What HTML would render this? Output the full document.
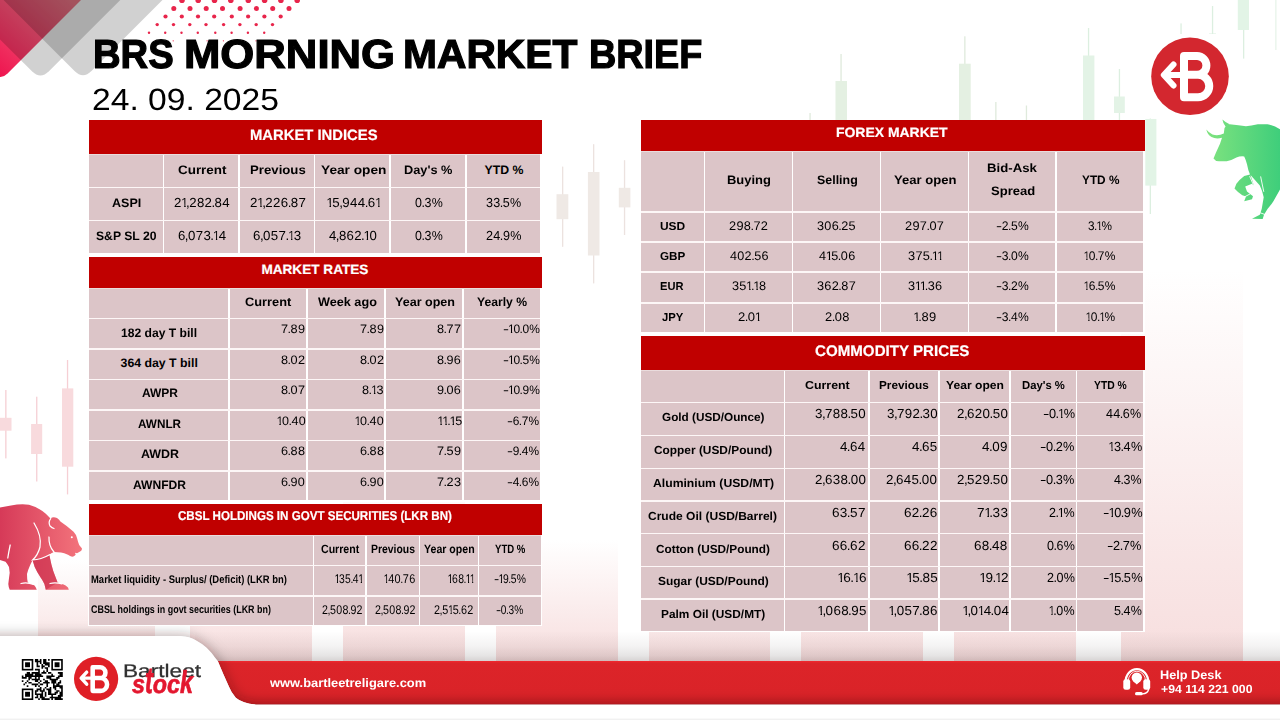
<!DOCTYPE html>
<html><head><meta charset="utf-8"><title>BRS Morning Market Brief</title>
<style>
html,body{margin:0;padding:0}
body{width:1280px;height:720px;position:relative;overflow:hidden;background:#fff;font-family:"Liberation Sans",sans-serif;text-rendering:geometricPrecision}
.t{position:absolute;white-space:nowrap;line-height:normal;margin:0;padding:0;transform-origin:0 0;color:#000}
.ta{display:inline-block;transform:scaleY(1.42);transform-origin:50% 81%}
.n{letter-spacing:.024em}
.n i{font-style:normal}
.o{display:inline-block;margin:0 -.136em 0 -.05em;clip-path:polygon(0 0,.352em 0,.352em 2em,.238em 2em,.238em .64em,0 .64em)}
.p{margin:0 -.064em}
.h{display:inline-block;transform:scaleX(1.5);transform-origin:0 50%;margin-right:.117em}
.hd{position:absolute;background:#c00000}
.bd{position:absolute;background:#dcc5c8}
.vl{position:absolute;width:1.8px;background:#fff}
.hl{position:absolute;height:1.3px;background:#fdf7f7}
svg{position:absolute;left:0;top:0}
</style></head><body>
<svg width="1280" height="720" viewBox="0 0 1280 720">
<defs>
<linearGradient id="pk" x1="0" y1="0" x2="0" y2="1"><stop offset="0" stop-color="#f7dede" stop-opacity="0"/><stop offset="1" stop-color="#f7dede" stop-opacity="1"/></linearGradient>
<linearGradient id="rd" x1="0" y1="75" x2="70" y2="0" gradientUnits="userSpaceOnUse"><stop offset="0" stop-color="#ee1650"/><stop offset="1" stop-color="#f47a8c"/></linearGradient>
<linearGradient id="bear" x1="0" y1="0" x2="82" y2="0" gradientUnits="userSpaceOnUse"><stop offset="0" stop-color="#d63a58"/><stop offset="1" stop-color="#f3747c"/></linearGradient>
<linearGradient id="bull" x1="1206" y1="0" x2="1280" y2="0" gradientUnits="userSpaceOnUse"><stop offset="0" stop-color="#80e37f"/><stop offset="1" stop-color="#3fce7b"/></linearGradient>
<linearGradient id="bar" x1="0" y1="661" x2="0" y2="705" gradientUnits="userSpaceOnUse"><stop offset="0" stop-color="#f2292f"/><stop offset="0.05" stop-color="#dc2429"/><stop offset="0.75" stop-color="#da2328"/><stop offset="0.97" stop-color="#d01f25"/><stop offset="1" stop-color="#b81016"/></linearGradient>
<filter id="bl3" x="-10%" y="-50%" width="120%" height="200%"><feGaussianBlur stdDeviation="3"/></filter>
<filter id="bl5" x="-10%" y="-50%" width="120%" height="200%"><feGaussianBlur stdDeviation="7"/></filter>
<filter id="bl2" x="-10%" y="-50%" width="120%" height="200%"><feGaussianBlur stdDeviation="2.2"/></filter>
<linearGradient id="shB" x1="0" y1="0" x2="0" y2="1"><stop offset="0" stop-color="#201010" stop-opacity="0"/><stop offset="0.5" stop-color="#201010" stop-opacity="0.05"/><stop offset="0.8" stop-color="#201010" stop-opacity="0.11"/><stop offset="1" stop-color="#201010" stop-opacity="0.19"/></linearGradient>
<linearGradient id="shU" x1="0" y1="0" x2="0" y2="1"><stop offset="0" stop-color="#9a8a8a" stop-opacity="0"/><stop offset="1" stop-color="#9a8a8a" stop-opacity="0.45"/></linearGradient>
</defs>
<rect x="38" y="560" width="117" height="101" fill="url(#pk)"/>
<rect x="190" y="520" width="122" height="141" fill="url(#pk)"/>
<rect x="343" y="470" width="122" height="191" fill="url(#pk)"/>
<rect x="496" y="540" width="122" height="121" fill="url(#pk)"/>
<rect x="649" y="560" width="121" height="101" fill="url(#pk)"/>
<rect x="801" y="520" width="122" height="141" fill="url(#pk)"/>
<rect x="954" y="470" width="122" height="191" fill="url(#pk)"/>
<rect x="1121" y="270" width="122" height="391" fill="url(#pk)"/>
<rect x="5.2" y="390" width="1.3" height="68.4" fill="#f6cfd4"/>
<rect x="0" y="417.8" width="11.5" height="12.9" fill="#f8dadd"/>
<rect x="36.1" y="396.7" width="1.3" height="84.8" fill="#f6cfd4"/>
<rect x="31.1" y="424" width="11.1" height="30.0" fill="#f8dadd"/>
<rect x="66.9" y="360" width="1.3" height="134.4" fill="#f6cfd4"/>
<rect x="62" y="388.4" width="11.3" height="78.3" fill="#f8dadd"/>
<rect x="562.0" y="166.6" width="1.3" height="80.2" fill="#ece2df"/>
<rect x="556.5" y="194.2" width="11.8" height="25.0" fill="#efe9e5"/>
<rect x="593.0" y="144.2" width="1.3" height="139.2" fill="#ece2df"/>
<rect x="587.9" y="172" width="11.6" height="83.5" fill="#efe9e5"/>
<rect x="623.9" y="160.2" width="1.3" height="74.8" fill="#ece2df"/>
<rect x="618.8" y="187.8" width="11.6" height="19.6" fill="#efe9e5"/>
<rect x="840.4" y="54" width="1.3" height="71.0" fill="#dfeadc"/>
<rect x="835.5" y="81" width="11.5" height="44.0" fill="#e4f0e2"/>
<rect x="964.2" y="36.3" width="1.3" height="88.7" fill="#dfeadc"/>
<rect x="959" y="63.7" width="11.7" height="61.3" fill="#e4f0e2"/>
<rect x="809.4" y="113" width="1.3" height="12.0" fill="#dfeadc"/>
<rect x="810" y="125" width="0.0" height="0.0" fill="#e4f0e2"/>
<rect x="995.2" y="102" width="1.3" height="23.0" fill="#dfeadc"/>
<rect x="995.8" y="125" width="0.0" height="0.0" fill="#e4f0e2"/>
<rect x="1025.8" y="105.5" width="1.3" height="19.5" fill="#dfeadc"/>
<rect x="1026.4" y="125" width="0.0" height="0.0" fill="#e4f0e2"/>
<rect x="1087.9" y="28" width="1.3" height="97.0" fill="#dcefe0"/>
<rect x="1083" y="55.5" width="11.4" height="69.5" fill="#e3f3e6"/>
<rect x="1118.8" y="69" width="1.3" height="52.0" fill="#dcefe0"/>
<rect x="1114" y="96.5" width="10.8" height="16.5" fill="#e3f3e6"/>
<rect x="1149.7" y="100" width="1.3" height="114.0" fill="#dcefe0"/>
<rect x="1145.3" y="118.9" width="11.1" height="66.7" fill="#e2f4e6"/>
<rect x="1180.4" y="23.4" width="1.3" height="10.6" fill="#dcefe0"/>
<rect x="1181" y="34" width="0.0" height="0.0" fill="#e4f0e2"/>
<rect x="1211.9" y="6" width="1.3" height="28.0" fill="#dcefe0"/>
<rect x="1209" y="33.5" width="7.0" height="0.8" fill="#dcefe0"/>
<rect x="1243.0" y="0" width="1.3" height="58.6" fill="#dcefe0"/>
<rect x="1237.8" y="0" width="11.2" height="30.0" fill="#e2f4e6"/>
<rect x="1275.2" y="0" width="1.3" height="50.0" fill="#e8f4ea"/>
<rect x="1275.8" y="0" width="0.0" height="0.0" fill="#e4f0e2"/>
<path d="M-299.5,-219.5 L-6.57,73.43 Q0.5,80.5 7.57,73.43 L300.5,-219.5 Z" fill="url(#rd)"/>
<path d="M-259.55,-220.15 L31.96,71.36 Q40.45,79.85 48.94,71.36 L340.45,-220.15 Z" fill="#000" fill-opacity="0.18"/>
<path d="M-217,-220.5 L74.51,71.01 Q83,79.5 91.49,71.01 L383,-220.5 Z" fill="#000" fill-opacity="0.18"/>
<circle cx="182.0" cy="0.3" r="2.8" fill="#e8254b"/>
<circle cx="198.2" cy="0.3" r="2.8" fill="#e8254b"/>
<circle cx="214.5" cy="0.3" r="2.8" fill="#e8254b"/>
<circle cx="230.8" cy="0.3" r="2.8" fill="#e8254b"/>
<circle cx="248.3" cy="0.3" r="2.8" fill="#e8254b"/>
<circle cx="264.6" cy="0.3" r="2.8" fill="#e8254b"/>
<circle cx="280.9" cy="0.3" r="2.8" fill="#e8254b"/>
<circle cx="297.2" cy="0.3" r="2.8" fill="#e8254b"/>
<circle cx="173.8" cy="8.4" r="2.5" fill="#e8254b"/>
<circle cx="190.0" cy="8.4" r="2.5" fill="#e8254b"/>
<circle cx="206.2" cy="8.4" r="2.5" fill="#e8254b"/>
<circle cx="222.5" cy="8.4" r="2.5" fill="#e8254b"/>
<circle cx="240.1" cy="8.4" r="2.5" fill="#e8254b"/>
<circle cx="256.4" cy="8.4" r="2.5" fill="#e8254b"/>
<circle cx="272.7" cy="8.4" r="2.5" fill="#e8254b"/>
<circle cx="289.0" cy="8.4" r="2.5" fill="#e8254b"/>
<circle cx="165.5" cy="16.5" r="2.1" fill="#e8254b"/>
<circle cx="181.8" cy="16.5" r="2.1" fill="#e8254b"/>
<circle cx="198.0" cy="16.5" r="2.1" fill="#e8254b"/>
<circle cx="214.2" cy="16.5" r="2.1" fill="#e8254b"/>
<circle cx="231.8" cy="16.5" r="2.1" fill="#e8254b"/>
<circle cx="248.1" cy="16.5" r="2.1" fill="#e8254b"/>
<circle cx="264.4" cy="16.5" r="2.1" fill="#e8254b"/>
<circle cx="280.7" cy="16.5" r="2.1" fill="#e8254b"/>
<circle cx="157.2" cy="24.6" r="1.7" fill="#e8254b"/>
<circle cx="173.5" cy="24.6" r="1.7" fill="#e8254b"/>
<circle cx="189.8" cy="24.6" r="1.7" fill="#e8254b"/>
<circle cx="206.0" cy="24.6" r="1.7" fill="#e8254b"/>
<circle cx="223.6" cy="24.6" r="1.7" fill="#e8254b"/>
<circle cx="239.9" cy="24.6" r="1.7" fill="#e8254b"/>
<circle cx="256.2" cy="24.6" r="1.7" fill="#e8254b"/>
<circle cx="272.5" cy="24.6" r="1.7" fill="#e8254b"/>
<circle cx="149.0" cy="32.7" r="1.2" fill="#e8254b"/>
<circle cx="165.2" cy="32.7" r="1.2" fill="#e8254b"/>
<circle cx="181.5" cy="32.7" r="1.2" fill="#e8254b"/>
<circle cx="197.8" cy="32.7" r="1.2" fill="#e8254b"/>
<circle cx="215.3" cy="32.7" r="1.2" fill="#e8254b"/>
<circle cx="231.6" cy="32.7" r="1.2" fill="#e8254b"/>
<circle cx="247.9" cy="32.7" r="1.2" fill="#e8254b"/>
<circle cx="264.2" cy="32.7" r="1.2" fill="#e8254b"/>
<circle cx="140.8" cy="40.8" r="0.65" fill="#e8254b"/>
<circle cx="157.0" cy="40.8" r="0.65" fill="#e8254b"/>
<circle cx="173.2" cy="40.8" r="0.65" fill="#e8254b"/>
<circle cx="189.5" cy="40.8" r="0.65" fill="#e8254b"/>
<circle cx="207.1" cy="40.8" r="0.65" fill="#e8254b"/>
<circle cx="223.4" cy="40.8" r="0.65" fill="#e8254b"/>
<circle cx="239.7" cy="40.8" r="0.65" fill="#e8254b"/>
<circle cx="256.0" cy="40.8" r="0.65" fill="#e8254b"/>
<path fill="url(#bear)" d="M0,507.5 L11,505.4 Q21,503.6 29,504.7 Q38,507 45.8,513.8 L50.5,518.4 Q53,516.5 57,518 Q59.5,519.5 60.4,521.6 Q67,526 73.6,531.8 Q76.5,535 77,538 Q78,542 79.2,545 L82,548.5 Q82,550.5 80.5,551.3 L77,553.3 L75,552.8 L75.7,554.7 Q74,556.5 72.2,556.8 Q70,556 68,554.7 Q64,553 61,552.6 L54,552 Q51,553 49.3,554.7 L51.4,564.4 Q53,571 55.5,577 L57.6,582.5 Q60,583 62.5,584 Q66,585.5 68,587.4 L68.8,589.7 L45.8,589.7 L44.4,584 Q42.5,580 40.3,577 Q37,572 34.7,567 L32.6,560.3 Q31,563 29.9,565.8 Q28,570 27,574 Q27,579 27.8,582.5 Q31,583.5 34,585 Q36,587 36.8,589.7 L9.7,589.7 Q8.5,587 8.3,584 Q9,578 9.7,572.8 L9,567 Q7.5,564 5.5,561.7 L0,560 Z"/>
<path fill="#c92b4b" fill-opacity="0.55" d="M32.6,560.3 Q41,559 49.3,554.7 L51.4,564.4 Q53,571 55.5,577 L57.6,582.5 L45.8,589.7 L44.4,584 Q42.5,580 40.3,577 Q37,572 34.7,567 Z"/>
<path fill="none" stroke="#fff" stroke-width="1.25" stroke-linecap="round" d="M34,523 Q42,536 40,547 Q38,555 32.6,560 Q41,559.5 49.5,554.7 M50.7,518.6 Q48,522 50,526 Q52,528 54,528.5 M49,537 Q48.5,546 54,552 M10.2,545 Q8.5,553 7.8,558 M21,583.5 Q27,582 33.5,584.5 M50,583.5 Q55,582 62,583.8"/>
<circle cx="71.8" cy="537.3" r="1" fill="#fff"/>
<path fill="url(#bull)" d="M1206.3,129.6 Q1207.5,135 1211.5,137 Q1216,139.5 1222,137.8 L1220,143.8 L1216,152.5 L1213.5,158.4 Q1215,161 1219,161.3 L1226.7,161.3 Q1232,160 1236.4,157.4 Q1240,156 1244.2,156.4 Q1246,160 1247,164.2 Q1248,170 1250,174.5 L1244.2,175.9 Q1240,179 1236.4,183.7 L1234.5,188.5 Q1238,192.5 1242.3,195.3 L1246,196.5 L1244.2,201.2 L1252,199.2 L1253,196.3 L1247,191.4 L1245.2,186.6 L1252,183.7 L1254,186 L1250.5,175 Q1255,180 1259.8,185.6 Q1262.5,191 1263.7,197.3 L1261.7,209 L1259.8,214.8 L1252,218.7 L1262.7,219 L1264,214.8 L1267.5,209 Q1271,205 1273.4,201.2 L1280,189.5 L1280,129.2 Q1274,125.5 1267.5,124.3 L1257.8,124.3 Q1251,126 1246,126.3 L1238.4,125.3 L1229.6,124.3 Q1227.5,125 1225.7,126.3 L1222.4,119.5 Q1224,123 1226.5,125.6 L1224.5,128 L1223.8,133.5 Q1218,136.5 1212.5,134.5 Q1208.5,132.5 1206.3,129.6 Z"/>
<path fill="url(#bull)" d="M1222.4,119.5 Q1225,122 1229.6,124.3 L1225.7,126.8 Q1223,123.5 1222.4,119.5 Z"/>
<path fill="none" stroke="#fff" stroke-width="0.9" stroke-linecap="round" d="M1260.7,176.8 L1263.7,191.4 M1258.8,212.3 L1264.6,214.4 M1244.3,197 L1250.3,193.8 M1249.8,176.5 L1253.8,186"/>
<rect x="1145" y="34" width="96" height="84.5" fill="#fff"/>
<circle cx="1190" cy="76.3" r="38.8" fill="#d3272f"/>
<path fill="none" stroke="#fff" stroke-width="8" stroke-linejoin="round" stroke-linecap="round" d="M1184,75 L1184,56 L1197,56 A9.4,9.4 0 0 1 1197,74.8 L1184,74.8 M1197,74.8 L1198,74.8 A11.25,11.25 0 0 1 1198,97.3 L1184,97.3 L1184,75"/>
<path fill="none" stroke="#fff" stroke-width="6" stroke-linejoin="round" stroke-linecap="round" d="M1182,75 L1164.5,75 M1173.5,64.5 L1163.8,75 L1173.5,85.5"/>
<rect x="195" y="631" width="1100" height="30.5" fill="url(#shB)"/>
<path fill="url(#bar)" d="M210,661 L1280,661 L1280,704.6 L258,704.6 Q243,704 235.8,697.8 Q231,692 229,686.7 L223.3,674 L217.8,661 Z"/>
<path fill="#2a2020" fill-opacity="0.37" filter="url(#bl5)" d="M-20,636 L181,636 Q190,636.5 195.5,640 Q202,643.5 206.7,647.8 Q212,653 215,657.5 L217.8,661 L223.3,674 L229,686.7 Q231,692 235.8,697.8 Q243,704 258,704.7 L1300,704.7 L1300,730 L-20,730 Z"/>
<path fill="#fff" d="M-20,636 L181,636 Q190,636.5 195.5,640 Q202,643.5 206.7,647.8 Q212,653 215,657.5 L217.8,661 L223.3,674 L229,686.7 Q231,692 235.8,697.8 Q243,704 258,704.7 L1300,704.7 L1300,730 L-20,730 Z"/>
<path fill="#000" d="M34.92,659.00h1.64v1.64h-1.64zM36.56,659.00h1.64v1.64h-1.64zM39.84,659.00h1.64v1.64h-1.64zM43.12,659.00h1.64v1.64h-1.64zM44.76,659.00h1.64v1.64h-1.64zM48.04,659.00h1.64v1.64h-1.64zM34.92,660.64h1.64v1.64h-1.64zM36.56,660.64h1.64v1.64h-1.64zM38.20,660.64h1.64v1.64h-1.64zM39.84,660.64h1.64v1.64h-1.64zM43.12,660.64h1.64v1.64h-1.64zM44.76,660.64h1.64v1.64h-1.64zM36.56,662.28h1.64v1.64h-1.64zM39.84,662.28h1.64v1.64h-1.64zM43.12,662.28h1.64v1.64h-1.64zM44.76,662.28h1.64v1.64h-1.64zM46.40,662.28h1.64v1.64h-1.64zM48.04,662.28h1.64v1.64h-1.64zM36.56,663.92h1.64v1.64h-1.64zM41.48,663.92h1.64v1.64h-1.64zM44.76,663.92h1.64v1.64h-1.64zM46.40,663.92h1.64v1.64h-1.64zM48.04,663.92h1.64v1.64h-1.64zM36.56,665.56h1.64v1.64h-1.64zM38.20,665.56h1.64v1.64h-1.64zM41.48,665.56h1.64v1.64h-1.64zM43.12,665.56h1.64v1.64h-1.64zM48.04,665.56h1.64v1.64h-1.64zM41.48,667.20h1.64v1.64h-1.64zM44.76,667.20h1.64v1.64h-1.64zM46.40,667.20h1.64v1.64h-1.64zM34.92,668.84h1.64v1.64h-1.64zM36.56,668.84h1.64v1.64h-1.64zM38.20,668.84h1.64v1.64h-1.64zM46.40,668.84h1.64v1.64h-1.64zM38.20,670.48h1.64v1.64h-1.64zM43.12,670.48h1.64v1.64h-1.64zM46.40,670.48h1.64v1.64h-1.64zM26.72,672.12h1.64v1.64h-1.64zM28.36,672.12h1.64v1.64h-1.64zM31.64,672.12h1.64v1.64h-1.64zM33.28,672.12h1.64v1.64h-1.64zM34.92,672.12h1.64v1.64h-1.64zM36.56,672.12h1.64v1.64h-1.64zM38.20,672.12h1.64v1.64h-1.64zM41.48,672.12h1.64v1.64h-1.64zM43.12,672.12h1.64v1.64h-1.64zM44.76,672.12h1.64v1.64h-1.64zM48.04,672.12h1.64v1.64h-1.64zM49.68,672.12h1.64v1.64h-1.64zM57.88,672.12h1.64v1.64h-1.64zM59.52,672.12h1.64v1.64h-1.64zM61.16,672.12h1.64v1.64h-1.64zM25.08,673.76h1.64v1.64h-1.64zM26.72,673.76h1.64v1.64h-1.64zM28.36,673.76h1.64v1.64h-1.64zM30.00,673.76h1.64v1.64h-1.64zM31.64,673.76h1.64v1.64h-1.64zM34.92,673.76h1.64v1.64h-1.64zM36.56,673.76h1.64v1.64h-1.64zM38.20,673.76h1.64v1.64h-1.64zM39.84,673.76h1.64v1.64h-1.64zM51.32,673.76h1.64v1.64h-1.64zM59.52,673.76h1.64v1.64h-1.64zM61.16,673.76h1.64v1.64h-1.64zM21.80,675.40h1.64v1.64h-1.64zM25.08,675.40h1.64v1.64h-1.64zM26.72,675.40h1.64v1.64h-1.64zM28.36,675.40h1.64v1.64h-1.64zM30.00,675.40h1.64v1.64h-1.64zM31.64,675.40h1.64v1.64h-1.64zM33.28,675.40h1.64v1.64h-1.64zM34.92,675.40h1.64v1.64h-1.64zM36.56,675.40h1.64v1.64h-1.64zM38.20,675.40h1.64v1.64h-1.64zM39.84,675.40h1.64v1.64h-1.64zM41.48,675.40h1.64v1.64h-1.64zM46.40,675.40h1.64v1.64h-1.64zM48.04,675.40h1.64v1.64h-1.64zM49.68,675.40h1.64v1.64h-1.64zM51.32,675.40h1.64v1.64h-1.64zM52.96,675.40h1.64v1.64h-1.64zM57.88,675.40h1.64v1.64h-1.64zM59.52,675.40h1.64v1.64h-1.64zM61.16,675.40h1.64v1.64h-1.64zM21.80,677.04h1.64v1.64h-1.64zM23.44,677.04h1.64v1.64h-1.64zM25.08,677.04h1.64v1.64h-1.64zM28.36,677.04h1.64v1.64h-1.64zM30.00,677.04h1.64v1.64h-1.64zM34.92,677.04h1.64v1.64h-1.64zM38.20,677.04h1.64v1.64h-1.64zM46.40,677.04h1.64v1.64h-1.64zM48.04,677.04h1.64v1.64h-1.64zM49.68,677.04h1.64v1.64h-1.64zM56.24,677.04h1.64v1.64h-1.64zM57.88,677.04h1.64v1.64h-1.64zM28.36,678.68h1.64v1.64h-1.64zM31.64,678.68h1.64v1.64h-1.64zM33.28,678.68h1.64v1.64h-1.64zM34.92,678.68h1.64v1.64h-1.64zM36.56,678.68h1.64v1.64h-1.64zM38.20,678.68h1.64v1.64h-1.64zM43.12,678.68h1.64v1.64h-1.64zM49.68,678.68h1.64v1.64h-1.64zM51.32,678.68h1.64v1.64h-1.64zM52.96,678.68h1.64v1.64h-1.64zM54.60,678.68h1.64v1.64h-1.64zM56.24,678.68h1.64v1.64h-1.64zM21.80,680.32h1.64v1.64h-1.64zM26.72,680.32h1.64v1.64h-1.64zM34.92,680.32h1.64v1.64h-1.64zM36.56,680.32h1.64v1.64h-1.64zM39.84,680.32h1.64v1.64h-1.64zM44.76,680.32h1.64v1.64h-1.64zM46.40,680.32h1.64v1.64h-1.64zM51.32,680.32h1.64v1.64h-1.64zM52.96,680.32h1.64v1.64h-1.64zM54.60,680.32h1.64v1.64h-1.64zM59.52,680.32h1.64v1.64h-1.64zM25.08,681.96h1.64v1.64h-1.64zM28.36,681.96h1.64v1.64h-1.64zM30.00,681.96h1.64v1.64h-1.64zM38.20,681.96h1.64v1.64h-1.64zM43.12,681.96h1.64v1.64h-1.64zM44.76,681.96h1.64v1.64h-1.64zM46.40,681.96h1.64v1.64h-1.64zM48.04,681.96h1.64v1.64h-1.64zM51.32,681.96h1.64v1.64h-1.64zM52.96,681.96h1.64v1.64h-1.64zM54.60,681.96h1.64v1.64h-1.64zM57.88,681.96h1.64v1.64h-1.64zM59.52,681.96h1.64v1.64h-1.64zM23.44,683.60h1.64v1.64h-1.64zM31.64,683.60h1.64v1.64h-1.64zM33.28,683.60h1.64v1.64h-1.64zM34.92,683.60h1.64v1.64h-1.64zM36.56,683.60h1.64v1.64h-1.64zM39.84,683.60h1.64v1.64h-1.64zM41.48,683.60h1.64v1.64h-1.64zM46.40,683.60h1.64v1.64h-1.64zM52.96,683.60h1.64v1.64h-1.64zM56.24,683.60h1.64v1.64h-1.64zM57.88,683.60h1.64v1.64h-1.64zM26.72,685.24h1.64v1.64h-1.64zM34.92,685.24h1.64v1.64h-1.64zM38.20,685.24h1.64v1.64h-1.64zM46.40,685.24h1.64v1.64h-1.64zM52.96,685.24h1.64v1.64h-1.64zM54.60,685.24h1.64v1.64h-1.64zM56.24,685.24h1.64v1.64h-1.64zM57.88,685.24h1.64v1.64h-1.64zM59.52,685.24h1.64v1.64h-1.64zM61.16,685.24h1.64v1.64h-1.64zM39.84,686.88h1.64v1.64h-1.64zM44.76,686.88h1.64v1.64h-1.64zM49.68,686.88h1.64v1.64h-1.64zM52.96,686.88h1.64v1.64h-1.64zM54.60,686.88h1.64v1.64h-1.64zM59.52,686.88h1.64v1.64h-1.64zM61.16,686.88h1.64v1.64h-1.64zM36.56,688.52h1.64v1.64h-1.64zM38.20,688.52h1.64v1.64h-1.64zM39.84,688.52h1.64v1.64h-1.64zM43.12,688.52h1.64v1.64h-1.64zM46.40,688.52h1.64v1.64h-1.64zM48.04,688.52h1.64v1.64h-1.64zM49.68,688.52h1.64v1.64h-1.64zM54.60,688.52h1.64v1.64h-1.64zM61.16,688.52h1.64v1.64h-1.64zM34.92,690.16h1.64v1.64h-1.64zM36.56,690.16h1.64v1.64h-1.64zM39.84,690.16h1.64v1.64h-1.64zM41.48,690.16h1.64v1.64h-1.64zM43.12,690.16h1.64v1.64h-1.64zM48.04,690.16h1.64v1.64h-1.64zM49.68,690.16h1.64v1.64h-1.64zM56.24,690.16h1.64v1.64h-1.64zM57.88,690.16h1.64v1.64h-1.64zM61.16,690.16h1.64v1.64h-1.64zM34.92,691.80h1.64v1.64h-1.64zM41.48,691.80h1.64v1.64h-1.64zM44.76,691.80h1.64v1.64h-1.64zM48.04,691.80h1.64v1.64h-1.64zM49.68,691.80h1.64v1.64h-1.64zM54.60,691.80h1.64v1.64h-1.64zM56.24,691.80h1.64v1.64h-1.64zM59.52,691.80h1.64v1.64h-1.64zM61.16,691.80h1.64v1.64h-1.64zM34.92,693.44h1.64v1.64h-1.64zM36.56,693.44h1.64v1.64h-1.64zM38.20,693.44h1.64v1.64h-1.64zM39.84,693.44h1.64v1.64h-1.64zM41.48,693.44h1.64v1.64h-1.64zM44.76,693.44h1.64v1.64h-1.64zM48.04,693.44h1.64v1.64h-1.64zM49.68,693.44h1.64v1.64h-1.64zM51.32,693.44h1.64v1.64h-1.64zM52.96,693.44h1.64v1.64h-1.64zM54.60,693.44h1.64v1.64h-1.64zM59.52,693.44h1.64v1.64h-1.64zM61.16,693.44h1.64v1.64h-1.64zM36.56,695.08h1.64v1.64h-1.64zM39.84,695.08h1.64v1.64h-1.64zM41.48,695.08h1.64v1.64h-1.64zM44.76,695.08h1.64v1.64h-1.64zM51.32,695.08h1.64v1.64h-1.64zM57.88,695.08h1.64v1.64h-1.64zM59.52,695.08h1.64v1.64h-1.64zM61.16,695.08h1.64v1.64h-1.64zM34.92,696.72h1.64v1.64h-1.64zM36.56,696.72h1.64v1.64h-1.64zM39.84,696.72h1.64v1.64h-1.64zM41.48,696.72h1.64v1.64h-1.64zM43.12,696.72h1.64v1.64h-1.64zM49.68,696.72h1.64v1.64h-1.64zM51.32,696.72h1.64v1.64h-1.64zM52.96,696.72h1.64v1.64h-1.64zM54.60,696.72h1.64v1.64h-1.64zM56.24,696.72h1.64v1.64h-1.64zM57.88,696.72h1.64v1.64h-1.64zM59.52,696.72h1.64v1.64h-1.64zM38.20,698.36h1.64v1.64h-1.64zM41.48,698.36h1.64v1.64h-1.64zM43.12,698.36h1.64v1.64h-1.64zM44.76,698.36h1.64v1.64h-1.64zM46.40,698.36h1.64v1.64h-1.64zM48.04,698.36h1.64v1.64h-1.64zM51.32,698.36h1.64v1.64h-1.64zM54.60,698.36h1.64v1.64h-1.64zM56.24,698.36h1.64v1.64h-1.64zM57.88,698.36h1.64v1.64h-1.64zM59.52,698.36h1.64v1.64h-1.64zM61.16,698.36h1.64v1.64h-1.64z"/>
<rect x="21.80" y="659.00" width="11.48" height="11.48" fill="#000"/>
<rect x="23.44" y="660.64" width="8.20" height="8.20" fill="#fff"/>
<rect x="25.08" y="662.28" width="4.92" height="4.92" fill="#000"/>
<rect x="51.32" y="659.00" width="11.48" height="11.48" fill="#000"/>
<rect x="52.96" y="660.64" width="8.20" height="8.20" fill="#fff"/>
<rect x="54.60" y="662.28" width="4.92" height="4.92" fill="#000"/>
<rect x="21.80" y="688.52" width="11.48" height="11.48" fill="#000"/>
<rect x="23.44" y="690.16" width="8.20" height="8.20" fill="#fff"/>
<rect x="25.08" y="691.80" width="4.92" height="4.92" fill="#000"/>
<circle cx="96.1" cy="678.9" r="22.1" fill="#df1f26"/>
<g transform="translate(96.1,678.9) scale(0.57) translate(-1190,-76.3)">
<path fill="none" stroke="#fff" stroke-width="8" stroke-linejoin="round" stroke-linecap="round" d="M1184,75 L1184,56 L1197,56 A9.4,9.4 0 0 1 1197,74.8 L1184,74.8 M1197,74.8 L1198,74.8 A11.25,11.25 0 0 1 1198,97.3 L1184,97.3 L1184,75"/>
<path fill="none" stroke="#fff" stroke-width="6" stroke-linejoin="round" stroke-linecap="round" d="M1182,75 L1164.5,75 M1173.5,64.5 L1163.8,75 L1173.5,85.5"/>
</g>
<g fill="none" stroke="#fff" stroke-linecap="round">
<path stroke-width="2.2" d="M1125.6,682 A11.3,13 0 0 1 1148.2,682"/>
<path stroke-width="0.9" d="M1128.3,680.5 A8.6,9.3 0 0 1 1145.5,680.5"/>
<path stroke-width="1.3" d="M1148.6,689.5 Q1147.6,693.6 1142.5,693.8"/>
</g>
<rect x="1123.3" y="679.2" width="6.9" height="10.6" rx="2.4" fill="#fff"/><rect x="1143.3" y="679.2" width="6.9" height="10.6" rx="2.4" fill="#fff"/>
<rect x="1135" y="692.1" width="7.8" height="3.2" rx="1.6" fill="#fff"/>
<circle cx="1136.8" cy="677.6" r="5.2" fill="#fff"/><path fill="#fff" d="M1133.6,681.6 L1136.8,684.6 L1140,681.6 Z"/>
<rect x="0" y="718.6" width="1280" height="1.4" fill="#f1f1f1"/>
</svg>
<div class="t" style="left:93.12px;top:31.00px;font-size:40.6px;font-weight:700;transform:scaleX(0.9411);-webkit-text-stroke:1.2px #000;">BRS</div>
<div class="t" style="left:184.01px;top:31.00px;font-size:40.6px;font-weight:700;transform:scaleX(1.0760);-webkit-text-stroke:1.2px #000;">MORNING</div>
<div class="t" style="left:402.95px;top:31.00px;font-size:40.6px;font-weight:700;transform:scaleX(1.0046);-webkit-text-stroke:1.2px #000;">MARKET</div>
<div class="t" style="left:589.39px;top:31.00px;font-size:40.6px;font-weight:700;transform:scaleX(0.9304);-webkit-text-stroke:1.2px #000;">BRIEF</div>
<div class="t" style="left:91.82px;top:82.00px;font-size:30.7px;transform:scaleX(1.0957);">24. 09. 2025</div>
<div style="position:absolute;background:#fff;left:87.7px;top:154px;width:454.3px;height:100.6px"></div>
<div class="hd" style="left:89px;top:120px;width:453px;height:34px"></div>
<div class="bd" style="left:89px;top:154px;width:451.29999999999995px;height:99px"></div>
<div class="vl" style="left:162.50px;top:154px;height:99px;width:1.8px"></div>
<div class="vl" style="left:238.10px;top:154px;height:99px;width:1.8px"></div>
<div class="vl" style="left:313.50px;top:154px;height:99px;width:1.8px"></div>
<div class="vl" style="left:389.10px;top:154px;height:99px;width:1.8px"></div>
<div class="vl" style="left:464.90px;top:154px;height:99px;width:1.8px"></div>
<div class="hl" style="left:89px;top:154.00px;width:451.29999999999995px;height:1px;background:#eadcdd"></div>
<div class="hl" style="left:89px;top:186.65px;width:451.29999999999995px;height:1.3px"></div>
<div class="hl" style="left:89px;top:220.05px;width:451.29999999999995px;height:1.3px"></div>
<div class="t" style="left:249.79px;top:127.00px;font-size:15.0px;font-weight:700;color:#fff;transform:scaleX(0.9871);-webkit-text-stroke:.2px #fff;">MARKET INDICES</div>
<div class="t" style="left:177.66px;top:163.00px;font-size:12.3px;font-weight:700;transform:scaleX(1.0916);">Current</div>
<div class="t" style="left:249.54px;top:163.00px;font-size:12.3px;font-weight:700;transform:scaleX(1.0735);">Previous</div>
<div class="t" style="left:320.63px;top:163.00px;font-size:12.3px;font-weight:700;transform:scaleX(1.1140);">Year open</div>
<div class="t" style="left:404.32px;top:163.00px;font-size:12.3px;font-weight:700;transform:scaleX(1.0379);">Day's %</div>
<div class="t" style="left:484.45px;top:163.00px;font-size:12.3px;font-weight:700;">YTD %</div>
<div class="t" style="left:112.04px;top:196.00px;font-size:12.3px;font-weight:700;transform:scaleX(1.0199);">ASPI</div>
<div class="t n" style="left:174.16px;top:195.00px;font-size:13.1px;transform:scaleX(1.0102);">2<i class="o">1</i><i class="p">,</i>282<i class="p">.</i>84</div>
<div class="t n" style="left:249.65px;top:195.00px;font-size:13.1px;transform:scaleX(1.0155);">2<i class="o">1</i><i class="p">,</i>226<i class="p">.</i>87</div>
<div class="t n" style="left:326.58px;top:195.00px;font-size:13.1px;transform:scaleX(1.0171);"><i class="o">1</i>5<i class="p">,</i>944<i class="p">.</i>6<i class="o">1</i></div>
<div class="t n" style="left:414.59px;top:195.00px;font-size:13.1px;transform:scaleX(0.9500);">0<i class="p">.</i>3%</div>
<div class="t n" style="left:485.95px;top:195.00px;font-size:13.1px;transform:scaleX(0.9603);">33<i class="p">.</i>5%</div>
<div class="t" style="left:96.23px;top:229.00px;font-size:12.3px;font-weight:700;transform:scaleX(0.9899);">S&amp;P SL 20</div>
<div class="t n" style="left:177.95px;top:228.00px;font-size:13.1px;transform:scaleX(1.0120);">6<i class="p">,</i>073<i class="p">.</i><i class="o">1</i>4</div>
<div class="t n" style="left:253.45px;top:228.00px;font-size:13.1px;transform:scaleX(1.0161);">6<i class="p">,</i>057<i class="p">.</i><i class="o">1</i>3</div>
<div class="t n" style="left:329.33px;top:228.00px;font-size:13.1px;transform:scaleX(1.0065);">4<i class="p">,</i>862<i class="p">.</i><i class="o">1</i>0</div>
<div class="t n" style="left:414.59px;top:228.00px;font-size:13.1px;transform:scaleX(0.9500);">0<i class="p">.</i>3%</div>
<div class="t n" style="left:485.80px;top:228.00px;font-size:13.1px;transform:scaleX(0.9646);">24<i class="p">.</i>9%</div>
<div style="position:absolute;background:#fff;left:87.7px;top:288px;width:454.3px;height:213.6px"></div>
<div class="hd" style="left:89px;top:257px;width:453px;height:31px"></div>
<div class="bd" style="left:89px;top:288px;width:451.1px;height:212.0px"></div>
<div class="vl" style="left:227.90px;top:288px;height:212.0px;width:1.8px"></div>
<div class="vl" style="left:306.10px;top:288px;height:212.0px;width:1.8px"></div>
<div class="vl" style="left:384.30px;top:288px;height:212.0px;width:1.8px"></div>
<div class="vl" style="left:462.10px;top:288px;height:212.0px;width:1.8px"></div>
<div class="hl" style="left:89px;top:288.00px;width:451.1px;height:1px;background:#eadcdd"></div>
<div class="hl" style="left:89px;top:317.75px;width:451.1px;height:1.3px"></div>
<div class="hl" style="left:89px;top:348.35px;width:451.1px;height:1.3px"></div>
<div class="hl" style="left:89px;top:378.65px;width:451.1px;height:1.3px"></div>
<div class="hl" style="left:89px;top:409.45px;width:451.1px;height:1.3px"></div>
<div class="hl" style="left:89px;top:439.75px;width:451.1px;height:1.3px"></div>
<div class="hl" style="left:89px;top:470.35px;width:451.1px;height:1.3px"></div>
<div class="t" style="left:261.42px;top:262.00px;font-size:13.6px;font-weight:700;color:#fff;-webkit-text-stroke:.2px #fff;">MARKET RATES</div>
<div class="t" style="left:245.29px;top:295.00px;font-size:12.3px;font-weight:700;transform:scaleX(1.0414);">Current</div>
<div class="t" style="left:317.60px;top:295.00px;font-size:12.3px;font-weight:700;transform:scaleX(1.0299);">Week ago</div>
<div class="t" style="left:395.05px;top:295.00px;font-size:12.3px;font-weight:700;transform:scaleX(1.0206);">Year open</div>
<div class="t" style="left:477.26px;top:295.00px;font-size:12.3px;font-weight:700;transform:scaleX(0.9888);">Yearly %</div>
<div class="t" style="left:120.87px;top:326.00px;font-size:12.3px;font-weight:700;transform:scaleX(0.9854);">182 day T bill</div>
<div class="t n" style="left:281.21px;top:322.00px;font-size:12.3px;transform:scaleX(1.0321);">7<i class="p">.</i>89</div>
<div class="t n" style="left:359.51px;top:322.00px;font-size:12.3px;transform:scaleX(1.0321);">7<i class="p">.</i>89</div>
<div class="t n" style="left:437.21px;top:322.00px;font-size:12.3px;transform:scaleX(1.0292);">8<i class="p">.</i>77</div>
<div class="t n" style="left:502.74px;top:322.00px;font-size:12.3px;transform:scaleX(0.9714);"><i class="h">-</i><i class="o">1</i>0<i class="p">.</i>0%</div>
<div class="t" style="left:120.59px;top:356.00px;font-size:12.3px;font-weight:700;">364 day T bill</div>
<div class="t n" style="left:281.31px;top:353.00px;font-size:12.3px;transform:scaleX(1.0292);">8<i class="p">.</i>02</div>
<div class="t n" style="left:359.61px;top:353.00px;font-size:12.3px;transform:scaleX(1.0292);">8<i class="p">.</i>02</div>
<div class="t n" style="left:437.21px;top:353.00px;font-size:12.3px;transform:scaleX(1.0252);">8<i class="p">.</i>96</div>
<div class="t n" style="left:502.74px;top:353.00px;font-size:12.3px;transform:scaleX(0.9714);"><i class="h">-</i><i class="o">1</i>0<i class="p">.</i>5%</div>
<div class="t" style="left:141.65px;top:386.00px;font-size:12.3px;font-weight:700;transform:scaleX(0.9767);">AWPR</div>
<div class="t n" style="left:281.31px;top:383.00px;font-size:12.3px;transform:scaleX(1.0292);">8<i class="p">.</i>07</div>
<div class="t n" style="left:362.19px;top:383.00px;font-size:12.3px;transform:scaleX(1.0285);">8<i class="p">.</i><i class="o">1</i>3</div>
<div class="t n" style="left:437.17px;top:383.00px;font-size:12.3px;transform:scaleX(1.0269);">9<i class="p">.</i>06</div>
<div class="t n" style="left:502.74px;top:383.00px;font-size:12.3px;transform:scaleX(0.9714);"><i class="h">-</i><i class="o">1</i>0<i class="p">.</i>9%</div>
<div class="t" style="left:138.16px;top:417.00px;font-size:12.3px;font-weight:700;transform:scaleX(0.9545);">AWNLR</div>
<div class="t n" style="left:276.72px;top:414.00px;font-size:12.3px;transform:scaleX(1.0198);"><i class="o">1</i>0<i class="p">.</i>40</div>
<div class="t n" style="left:355.02px;top:414.00px;font-size:12.3px;transform:scaleX(1.0198);"><i class="o">1</i>0<i class="p">.</i>40</div>
<div class="t n" style="left:437.79px;top:414.00px;font-size:12.3px;transform:scaleX(1.0264);"><i class="o">1</i><i class="o">1</i><i class="p">.</i><i class="o">1</i>5</div>
<div class="t n" style="left:507.30px;top:414.00px;font-size:12.3px;transform:scaleX(0.9674);"><i class="h">-</i>6<i class="p">.</i>7%</div>
<div class="t" style="left:140.64px;top:447.00px;font-size:12.3px;font-weight:700;transform:scaleX(1.0129);">AWDR</div>
<div class="t n" style="left:281.22px;top:444.00px;font-size:12.3px;transform:scaleX(1.0292);">6<i class="p">.</i>88</div>
<div class="t n" style="left:359.52px;top:444.00px;font-size:12.3px;transform:scaleX(1.0292);">6<i class="p">.</i>88</div>
<div class="t n" style="left:437.11px;top:444.00px;font-size:12.3px;transform:scaleX(1.0321);">7<i class="p">.</i>59</div>
<div class="t n" style="left:507.30px;top:444.00px;font-size:12.3px;transform:scaleX(0.9674);"><i class="h">-</i>9<i class="p">.</i>4%</div>
<div class="t" style="left:133.15px;top:478.00px;font-size:12.3px;font-weight:700;transform:scaleX(0.9835);">AWNFDR</div>
<div class="t n" style="left:281.22px;top:475.00px;font-size:12.3px;transform:scaleX(1.0263);">6<i class="p">.</i>90</div>
<div class="t n" style="left:359.52px;top:475.00px;font-size:12.3px;transform:scaleX(1.0263);">6<i class="p">.</i>90</div>
<div class="t n" style="left:437.11px;top:475.00px;font-size:12.3px;transform:scaleX(1.0298);">7<i class="p">.</i>23</div>
<div class="t n" style="left:507.30px;top:475.00px;font-size:12.3px;transform:scaleX(0.9674);"><i class="h">-</i>4<i class="p">.</i>6%</div>
<div style="position:absolute;background:#fff;left:87.7px;top:535px;width:454.3px;height:91.39999999999995px"></div>
<div class="hd" style="left:89px;top:504px;width:453px;height:31px"></div>
<div class="bd" style="left:89px;top:535px;width:451.9px;height:89.79999999999995px"></div>
<div class="vl" style="left:312.60px;top:535px;height:89.79999999999995px;width:1.8px"></div>
<div class="vl" style="left:365.40px;top:535px;height:89.79999999999995px;width:1.8px"></div>
<div class="vl" style="left:418.50px;top:535px;height:89.79999999999995px;width:1.8px"></div>
<div class="vl" style="left:477.60px;top:535px;height:89.79999999999995px;width:1.8px"></div>
<div class="hl" style="left:89px;top:535.00px;width:451.9px;height:1px;background:#eadcdd"></div>
<div class="hl" style="left:89px;top:564.65px;width:451.9px;height:1.3px"></div>
<div class="hl" style="left:89px;top:595.25px;width:451.9px;height:1.3px"></div>
<div class="t" style="left:177.59px;top:508.00px;font-size:12.9px;font-weight:700;color:#fff;transform:scaleX(0.8983);-webkit-text-stroke:.2px #fff;">CBSL HOLDINGS IN GOVT SECURITIES (LKR BN)</div>
<div class="t" style="left:321.23px;top:542.00px;font-size:12.0px;font-weight:700;transform:scaleX(0.8825);">Current</div>
<div class="t" style="left:371.32px;top:542.00px;font-size:12.0px;font-weight:700;transform:scaleX(0.8677);">Previous</div>
<div class="t" style="left:424.44px;top:542.00px;font-size:12.0px;font-weight:700;transform:scaleX(0.8830);">Year open</div>
<div class="t" style="left:495.16px;top:542.00px;font-size:12.0px;font-weight:700;transform:scaleX(0.7973);">YTD %</div>
<div class="t" style="left:90.89px;top:574.00px;font-size:11.0px;font-weight:700;transform:scaleX(0.8592);">Market liquidity - Surplus/ (Deficit) (LKR bn)</div>
<div class="t" style="left:91.14px;top:604.00px;font-size:11.0px;font-weight:700;transform:scaleX(0.8117);">CBSL holdings in govt securities (LKR bn)</div>
<div class="t n" style="left:335.23px;top:572.00px;font-size:12.6px;transform:scaleX(0.8179);"><i class="o">1</i>35<i class="p">.</i>4<i class="o">1</i></div>
<div class="t n" style="left:384.30px;top:572.00px;font-size:12.6px;transform:scaleX(0.8642);"><i class="o">1</i>40<i class="p">.</i>76</div>
<div class="t n" style="left:448.12px;top:572.00px;font-size:12.6px;transform:scaleX(0.8271);"><i class="o">1</i>68<i class="p">.</i><i class="o">1</i><i class="o">1</i></div>
<div class="t n" style="left:322.07px;top:603.00px;font-size:12.6px;transform:scaleX(0.8443);">2<i class="p">,</i>508<i class="p">.</i>92</div>
<div class="t n" style="left:375.07px;top:603.00px;font-size:12.6px;transform:scaleX(0.8443);">2<i class="p">,</i>508<i class="p">.</i>92</div>
<div class="t n" style="left:434.16px;top:603.00px;font-size:12.6px;transform:scaleX(0.8589);">2<i class="p">,</i>5<i class="o">1</i>5<i class="p">.</i>62</div>
<div class="t n" style="left:493.72px;top:572.00px;font-size:12.6px;transform:scaleX(0.8213);"><i class="h">-</i><i class="o">1</i>9<i class="p">.</i>5%</div>
<div class="t n" style="left:495.73px;top:603.00px;font-size:12.6px;transform:scaleX(0.8036);"><i class="h">-</i>0<i class="p">.</i>3%</div>
<div style="position:absolute;background:#fff;left:639.7px;top:150.5px;width:505.3px;height:183.4px"></div>
<div class="hd" style="left:641px;top:120px;width:504px;height:30.5px"></div>
<div class="bd" style="left:641px;top:150.5px;width:501.9000000000001px;height:181.8px"></div>
<div class="vl" style="left:703.65px;top:150.5px;height:181.8px;width:1.5px"></div>
<div class="vl" style="left:791.65px;top:150.5px;height:181.8px;width:1.5px"></div>
<div class="vl" style="left:879.65px;top:150.5px;height:181.8px;width:1.5px"></div>
<div class="vl" style="left:967.85px;top:150.5px;height:181.8px;width:1.5px"></div>
<div class="vl" style="left:1055.25px;top:150.5px;height:181.8px;width:1.5px"></div>
<div class="hl" style="left:641px;top:150.50px;width:501.9000000000001px;height:1px;background:#eadcdd"></div>
<div class="hl" style="left:641px;top:210.70px;width:501.9000000000001px;height:2.0px"></div>
<div class="hl" style="left:641px;top:240.80px;width:501.9000000000001px;height:2.0px"></div>
<div class="hl" style="left:641px;top:271.40px;width:501.9000000000001px;height:2.0px"></div>
<div class="hl" style="left:641px;top:301.70px;width:501.9000000000001px;height:2.0px"></div>
<div class="t" style="left:836.34px;top:125.00px;font-size:13.5px;font-weight:700;color:#fff;transform:scaleX(1.0328);-webkit-text-stroke:.2px #fff;">FOREX MARKET</div>
<div class="t" style="left:727.41px;top:173.00px;font-size:12.2px;font-weight:700;transform:scaleX(1.0636);">Buying</div>
<div class="t" style="left:817.23px;top:173.00px;font-size:12.2px;font-weight:700;transform:scaleX(1.0191);">Selling</div>
<div class="t" style="left:894.49px;top:173.00px;font-size:12.2px;font-weight:700;transform:scaleX(1.0725);">Year open</div>
<div class="t" style="left:1081.71px;top:173.00px;font-size:12.2px;font-weight:700;transform:scaleX(0.9705);">YTD %</div>
<div class="t" style="left:987.44px;top:161.00px;font-size:12.2px;font-weight:700;transform:scaleX(1.0826);">Bid-Ask</div>
<div class="t" style="left:990.91px;top:184.00px;font-size:12.2px;font-weight:700;transform:scaleX(1.0697);">Spread</div>
<div class="t" style="left:659.68px;top:221.00px;font-size:11.5px;font-weight:700;transform:scaleX(1.0383);">USD</div>
<div class="t n" style="left:729.30px;top:219.00px;font-size:12.5px;transform:scaleX(1.0203);">298<i class="p">.</i>72</div>
<div class="t n" style="left:817.46px;top:219.00px;font-size:12.5px;transform:scaleX(1.0131);">306<i class="p">.</i>25</div>
<div class="t n" style="left:905.40px;top:219.00px;font-size:12.5px;transform:scaleX(1.0203);">297<i class="p">.</i>07</div>
<div class="t n" style="left:996.29px;top:219.00px;font-size:12.5px;transform:scaleX(0.9678);"><i class="h">-</i>2<i class="p">.</i>5%</div>
<div class="t n" style="left:1087.91px;top:219.00px;font-size:12.5px;transform:scaleX(0.9425);">3<i class="p">.</i><i class="o">1</i>%</div>
<div class="t" style="left:659.68px;top:251.00px;font-size:11.5px;font-weight:700;transform:scaleX(1.0169);">GBP</div>
<div class="t n" style="left:729.66px;top:249.00px;font-size:12.5px;transform:scaleX(1.0083);">402<i class="p">.</i>56</div>
<div class="t n" style="left:818.97px;top:249.00px;font-size:12.5px;transform:scaleX(1.0089);">4<i class="o">1</i>5<i class="p">.</i>06</div>
<div class="t n" style="left:908.18px;top:249.00px;font-size:12.5px;transform:scaleX(1.0217);">375<i class="p">.</i><i class="o">1</i><i class="o">1</i></div>
<div class="t n" style="left:996.29px;top:249.00px;font-size:12.5px;transform:scaleX(0.9678);"><i class="h">-</i>3<i class="p">.</i>0%</div>
<div class="t n" style="left:1084.19px;top:249.00px;font-size:12.5px;transform:scaleX(0.9589);"><i class="o">1</i>0<i class="p">.</i>7%</div>
<div class="t" style="left:660.43px;top:281.00px;font-size:11.5px;font-weight:700;transform:scaleX(0.9662);">EUR</div>
<div class="t n" style="left:732.08px;top:279.00px;font-size:12.5px;transform:scaleX(1.0161);">35<i class="o">1</i><i class="p">.</i><i class="o">1</i>8</div>
<div class="t n" style="left:817.45px;top:279.00px;font-size:12.5px;transform:scaleX(1.0162);">362<i class="p">.</i>87</div>
<div class="t n" style="left:908.18px;top:279.00px;font-size:12.5px;transform:scaleX(1.0161);">3<i class="o">1</i><i class="o">1</i><i class="p">.</i>36</div>
<div class="t n" style="left:996.29px;top:279.00px;font-size:12.5px;transform:scaleX(0.9678);"><i class="h">-</i>3<i class="p">.</i>2%</div>
<div class="t n" style="left:1084.19px;top:279.00px;font-size:12.5px;transform:scaleX(0.9589);"><i class="o">1</i>6<i class="p">.</i>5%</div>
<div class="t" style="left:661.73px;top:312.00px;font-size:11.5px;font-weight:700;transform:scaleX(0.9818);">JPY</div>
<div class="t n" style="left:737.85px;top:310.00px;font-size:12.5px;transform:scaleX(1.0432);">2<i class="p">.</i>0<i class="o">1</i></div>
<div class="t n" style="left:824.54px;top:310.00px;font-size:12.5px;transform:scaleX(1.0298);">2<i class="p">.</i>08</div>
<div class="t n" style="left:914.01px;top:310.00px;font-size:12.5px;transform:scaleX(1.0338);"><i class="o">1</i><i class="p">.</i>89</div>
<div class="t n" style="left:996.29px;top:310.00px;font-size:12.5px;transform:scaleX(0.9678);"><i class="h">-</i>3<i class="p">.</i>4%</div>
<div class="t n" style="left:1085.50px;top:310.00px;font-size:12.5px;transform:scaleX(0.9551);"><i class="o">1</i>0<i class="p">.</i><i class="o">1</i>%</div>
<div style="position:absolute;background:#fff;left:639.7px;top:369.8px;width:505.3px;height:262.50000000000006px"></div>
<div class="hd" style="left:641px;top:336px;width:504px;height:33.80000000000001px"></div>
<div class="bd" style="left:641px;top:369.8px;width:501.9000000000001px;height:260.90000000000003px"></div>
<div class="vl" style="left:783.60px;top:369.8px;height:260.90000000000003px;width:1.8px"></div>
<div class="vl" style="left:868.00px;top:369.8px;height:260.90000000000003px;width:1.8px"></div>
<div class="vl" style="left:938.10px;top:369.8px;height:260.90000000000003px;width:1.8px"></div>
<div class="vl" style="left:1008.80px;top:369.8px;height:260.90000000000003px;width:1.8px"></div>
<div class="vl" style="left:1075.70px;top:369.8px;height:260.90000000000003px;width:1.8px"></div>
<div class="hl" style="left:641px;top:369.70px;width:501.9000000000001px;height:1px;background:#eadcdd"></div>
<div class="hl" style="left:641px;top:401.75px;width:501.9000000000001px;height:1.3px"></div>
<div class="hl" style="left:641px;top:434.75px;width:501.9000000000001px;height:1.3px"></div>
<div class="hl" style="left:641px;top:467.65px;width:501.9000000000001px;height:1.3px"></div>
<div class="hl" style="left:641px;top:500.35px;width:501.9000000000001px;height:1.3px"></div>
<div class="hl" style="left:641px;top:532.95px;width:501.9000000000001px;height:1.3px"></div>
<div class="hl" style="left:641px;top:565.65px;width:501.9000000000001px;height:1.3px"></div>
<div class="hl" style="left:641px;top:598.45px;width:501.9000000000001px;height:1.3px"></div>
<div class="t" style="left:814.85px;top:343.00px;font-size:15.3px;font-weight:700;color:#fff;transform:scaleX(0.9885);-webkit-text-stroke:.2px #fff;">COMMODITY PRICES</div>
<div class="t" style="left:804.70px;top:380.00px;font-size:11.5px;font-weight:700;transform:scaleX(1.0772);">Current</div>
<div class="t" style="left:879.18px;top:380.00px;font-size:11.5px;font-weight:700;transform:scaleX(1.0257);">Previous</div>
<div class="t" style="left:945.76px;top:380.00px;font-size:11.5px;font-weight:700;transform:scaleX(1.0546);">Year open</div>
<div class="t" style="left:1021.67px;top:380.00px;font-size:11.5px;font-weight:700;transform:scaleX(0.9810);">Day's %</div>
<div class="t" style="left:1094.34px;top:380.00px;font-size:11.5px;font-weight:700;transform:scaleX(0.8988);">YTD %</div>
<div class="t" style="left:661.68px;top:411.00px;font-size:11.7px;font-weight:700;transform:scaleX(1.0056);">Gold (USD/Ounce)</div>
<div class="t n" style="left:815.30px;top:406.00px;font-size:13.2px;transform:scaleX(1.0106);">3<i class="p">,</i>788<i class="p">.</i>50</div>
<div class="t n" style="left:886.60px;top:406.00px;font-size:13.2px;transform:scaleX(1.0106);">3<i class="p">,</i>792<i class="p">.</i>30</div>
<div class="t n" style="left:957.13px;top:406.00px;font-size:13.2px;transform:scaleX(1.0139);">2<i class="p">,</i>620<i class="p">.</i>50</div>
<div class="t n" style="left:1043.13px;top:406.00px;font-size:13.2px;transform:scaleX(0.9663);"><i class="h">-</i>0<i class="p">.</i><i class="o">1</i>%</div>
<div class="t n" style="left:1106.31px;top:406.00px;font-size:13.2px;transform:scaleX(0.9549);">44<i class="p">.</i>6%</div>
<div class="t" style="left:653.87px;top:444.00px;font-size:11.7px;font-weight:700;transform:scaleX(1.0164);">Copper (USD/Pound)</div>
<div class="t n" style="left:840.46px;top:439.00px;font-size:13.2px;transform:scaleX(1.0079);">4<i class="p">.</i>64</div>
<div class="t n" style="left:911.76px;top:439.00px;font-size:13.2px;transform:scaleX(1.0146);">4<i class="p">.</i>65</div>
<div class="t n" style="left:982.46px;top:439.00px;font-size:13.2px;transform:scaleX(1.0179);">4<i class="p">.</i>09</div>
<div class="t n" style="left:1040.36px;top:439.00px;font-size:13.2px;transform:scaleX(0.9691);"><i class="h">-</i>0<i class="p">.</i>2%</div>
<div class="t n" style="left:1108.78px;top:439.00px;font-size:13.2px;transform:scaleX(0.9603);"><i class="o">1</i>3<i class="p">.</i>4%</div>
<div class="t" style="left:653.35px;top:477.00px;font-size:11.7px;font-weight:700;transform:scaleX(1.0426);">Aluminium (USD/MT)</div>
<div class="t n" style="left:815.13px;top:472.00px;font-size:13.2px;transform:scaleX(1.0139);">2<i class="p">,</i>638<i class="p">.</i>00</div>
<div class="t n" style="left:886.43px;top:472.00px;font-size:13.2px;transform:scaleX(1.0139);">2<i class="p">,</i>645<i class="p">.</i>00</div>
<div class="t n" style="left:957.13px;top:472.00px;font-size:13.2px;transform:scaleX(1.0139);">2<i class="p">,</i>529<i class="p">.</i>50</div>
<div class="t n" style="left:1040.36px;top:472.00px;font-size:13.2px;transform:scaleX(0.9691);"><i class="h">-</i>0<i class="p">.</i>3%</div>
<div class="t n" style="left:1113.97px;top:472.00px;font-size:13.2px;transform:scaleX(0.9427);">4<i class="p">.</i>3%</div>
<div class="t" style="left:648.47px;top:510.00px;font-size:11.7px;font-weight:700;transform:scaleX(1.0287);">Crude Oil (USD/Barrel)</div>
<div class="t n" style="left:832.42px;top:505.00px;font-size:13.2px;transform:scaleX(1.0269);">63<i class="p">.</i>57</div>
<div class="t n" style="left:903.72px;top:505.00px;font-size:13.2px;transform:scaleX(1.0238);">62<i class="p">.</i>26</div>
<div class="t n" style="left:977.18px;top:505.00px;font-size:13.2px;transform:scaleX(1.0267);">7<i class="o">1</i><i class="p">.</i>33</div>
<div class="t n" style="left:1049.29px;top:505.00px;font-size:13.2px;transform:scaleX(0.9502);">2<i class="p">.</i><i class="o">1</i>%</div>
<div class="t n" style="left:1102.57px;top:505.00px;font-size:13.2px;transform:scaleX(0.9730);"><i class="h">-</i><i class="o">1</i>0<i class="p">.</i>9%</div>
<div class="t" style="left:655.98px;top:543.00px;font-size:11.7px;font-weight:700;transform:scaleX(1.0087);">Cotton (USD/Pound)</div>
<div class="t n" style="left:832.42px;top:538.00px;font-size:13.2px;transform:scaleX(1.0269);">66<i class="p">.</i>62</div>
<div class="t n" style="left:903.72px;top:538.00px;font-size:13.2px;transform:scaleX(1.0269);">66<i class="p">.</i>22</div>
<div class="t n" style="left:974.42px;top:538.00px;font-size:13.2px;transform:scaleX(1.0238);">68<i class="p">.</i>48</div>
<div class="t n" style="left:1046.65px;top:538.00px;font-size:13.2px;transform:scaleX(0.9502);">0<i class="p">.</i>6%</div>
<div class="t n" style="left:1107.46px;top:538.00px;font-size:13.2px;transform:scaleX(0.9691);"><i class="h">-</i>2<i class="p">.</i>7%</div>
<div class="t" style="left:657.59px;top:575.00px;font-size:11.7px;font-weight:700;transform:scaleX(1.0219);">Sugar (USD/Pound)</div>
<div class="t n" style="left:838.02px;top:570.00px;font-size:13.2px;transform:scaleX(1.0269);"><i class="o">1</i>6<i class="p">.</i><i class="o">1</i>6</div>
<div class="t n" style="left:906.55px;top:570.00px;font-size:13.2px;transform:scaleX(1.0233);"><i class="o">1</i>5<i class="p">.</i>85</div>
<div class="t n" style="left:980.01px;top:570.00px;font-size:13.2px;transform:scaleX(1.0306);"><i class="o">1</i>9<i class="p">.</i><i class="o">1</i>2</div>
<div class="t n" style="left:1046.51px;top:570.00px;font-size:13.2px;transform:scaleX(0.9552);">2<i class="p">.</i>0%</div>
<div class="t n" style="left:1102.57px;top:570.00px;font-size:13.2px;transform:scaleX(0.9730);"><i class="h">-</i><i class="o">1</i>5<i class="p">.</i>5%</div>
<div class="t" style="left:660.68px;top:608.00px;font-size:11.7px;font-weight:700;transform:scaleX(1.0160);">Palm Oil (USD/MT)</div>
<div class="t n" style="left:817.96px;top:603.00px;font-size:13.2px;transform:scaleX(1.0144);"><i class="o">1</i><i class="p">,</i>068<i class="p">.</i>95</div>
<div class="t n" style="left:889.26px;top:603.00px;font-size:13.2px;transform:scaleX(1.0150);"><i class="o">1</i><i class="p">,</i>057<i class="p">.</i>86</div>
<div class="t n" style="left:962.73px;top:603.00px;font-size:13.2px;transform:scaleX(1.0116);"><i class="o">1</i><i class="p">,</i>0<i class="o">1</i>4<i class="p">.</i>04</div>
<div class="t n" style="left:1049.34px;top:603.00px;font-size:13.2px;transform:scaleX(0.9482);"><i class="o">1</i><i class="p">.</i>0%</div>
<div class="t n" style="left:1113.74px;top:603.00px;font-size:13.2px;transform:scaleX(0.9507);">5<i class="p">.</i>4%</div>
<div class="t" style="left:123.39px;top:660.00px;font-size:18.3px;color:#303030;transform:scaleX(1.2393);-webkit-text-stroke:0.25px #303030;">Bartleet</div>
<div class="t" style="left:132.37px;top:669.00px;font-size:26px;font-weight:700;color:#e3172f;transform:scaleX(0.8974);font-style:italic;-webkit-text-stroke:0.6px #e3172f;">s<i class="ta">t</i>oc<i class="ta" style="transform:scaleY(1.22)">k</i></div>
<div class="t" style="left:269.56px;top:676.00px;font-size:12.3px;font-weight:700;color:#fff;transform:scaleX(1.0465);">www.bartleetreligare.com</div>
<div class="t" style="left:1160.47px;top:668.00px;font-size:12.2px;font-weight:700;color:#fff;transform:scaleX(1.0431);">Help Desk</div>
<div class="t" style="left:1160.81px;top:682.00px;font-size:11.8px;font-weight:700;color:#fff;transform:scaleX(1.0364);">+94 114 221 000</div>
</body></html>
